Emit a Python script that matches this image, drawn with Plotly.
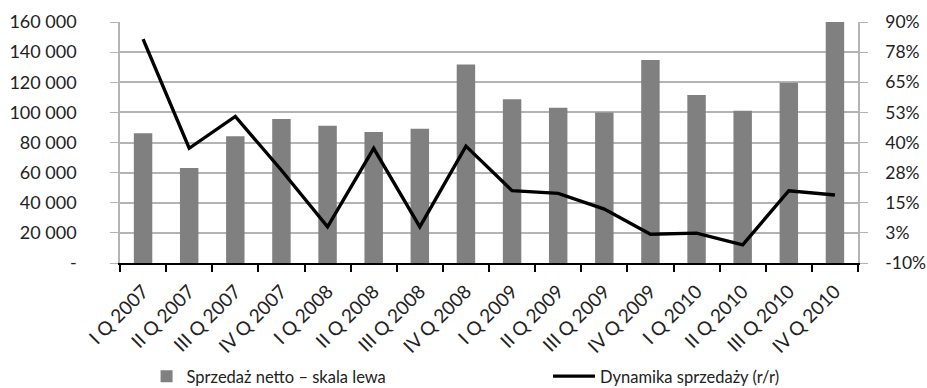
import plotly.graph_objects as go

quarters = ["I Q 2007", "II Q 2007", "III Q 2007", "IV Q 2007",
            "I Q 2008", "II Q 2008", "III Q 2008", "IV Q 2008",
            "I Q 2009", "II Q 2009", "III Q 2009", "IV Q 2009",
            "I Q 2010", "II Q 2010", "III Q 2010", "IV Q 2010"]
net_sales = [86200, 63100, 84200, 95600, 91100, 86900, 89100, 131800,
             108700, 103100, 100000, 134700, 111600, 101100, 119600, 160000]
sales_growth = [82.9, 37.6, 50.8, 28.5, 5.0, 37.6, 5.0, 38.5,
                20.0, 18.9, 12.4, 1.9, 2.4, -2.5, 20.0, 18.2]

left_ticks = [0, 20000, 40000, 60000, 80000, 100000, 120000, 140000, 160000]
left_labels = ["-", "20 000", "40 000", "60 000", "80 000", "100 000",
               "120 000", "140 000", "160 000"]
right_ticks = [-10, 2.5, 15, 27.5, 40, 52.5, 65, 77.5, 90]
right_labels = ["-10%", "3%", "15%", "28%", "40%", "53%", "65%", "78%", "90%"]

FONT = "Lato"
TEXT = "#222222"
GRID = "#b4b4b4"

fig = go.Figure()
fig.add_trace(go.Bar(
    x=quarters, y=net_sales, name="Sprzedaż netto – skala lewa",
    marker=dict(color="#808080", line=dict(width=0)), width=0.4,
    yaxis="y", legend="legend"))
fig.add_trace(go.Scatter(
    x=quarters, y=sales_growth, name="Dynamika sprzedaży (r/r)",
    mode="lines", line=dict(color="#000000", width=3.4),
    yaxis="y2", legend="legend2"))

legend_common = dict(orientation="h", y=-0.398, xanchor="left", yanchor="top",
                     font=dict(family=FONT, size=16.5, color=TEXT),
                     bgcolor="rgba(0,0,0,0)")

fig.update_layout(
    width=927, height=388,
    margin=dict(l=120, r=69, t=22, b=125, autoexpand=False),
    paper_bgcolor="white", plot_bgcolor="white",
    font=dict(family=FONT, size=16, color=TEXT),
    showlegend=True,
    legend=dict(x=0.036, itemwidth=30, **legend_common),
    legend2=dict(x=0.58, itemwidth=42, **legend_common),
    xaxis=dict(type="category", tickson="boundaries", ticks="outside",
               ticklen=7, tickwidth=2, tickcolor="#000000",
               showline=True, linecolor="#000000", linewidth=2,
               tickangle=-45, showgrid=False, automargin=False,
               ticklabelstandoff=8,
               tickfont=dict(size=19, color=TEXT)),
    yaxis=dict(range=[0, 160000], tickvals=left_ticks, ticktext=left_labels,
               showgrid=True, gridcolor=GRID, gridwidth=1.5,
               showline=True, linecolor=GRID, linewidth=1.5,
               ticks="outside", ticklen=8, tickcolor=GRID,
               ticklabelstandoff=30, automargin=False,
               zeroline=False, tickfont=dict(size=18, color=TEXT)),
    yaxis2=dict(range=[-10, 90], tickvals=right_ticks, ticktext=right_labels,
                overlaying="y", side="right", showgrid=False,
                showline=True, linecolor=GRID, linewidth=1.5,
                ticks="outside", ticklen=8, tickcolor=GRID,
                ticklabelstandoff=14, automargin=False,
                zeroline=False, tickfont=dict(size=17.5, color=TEXT)),
)

fig.write_html("out.html")
